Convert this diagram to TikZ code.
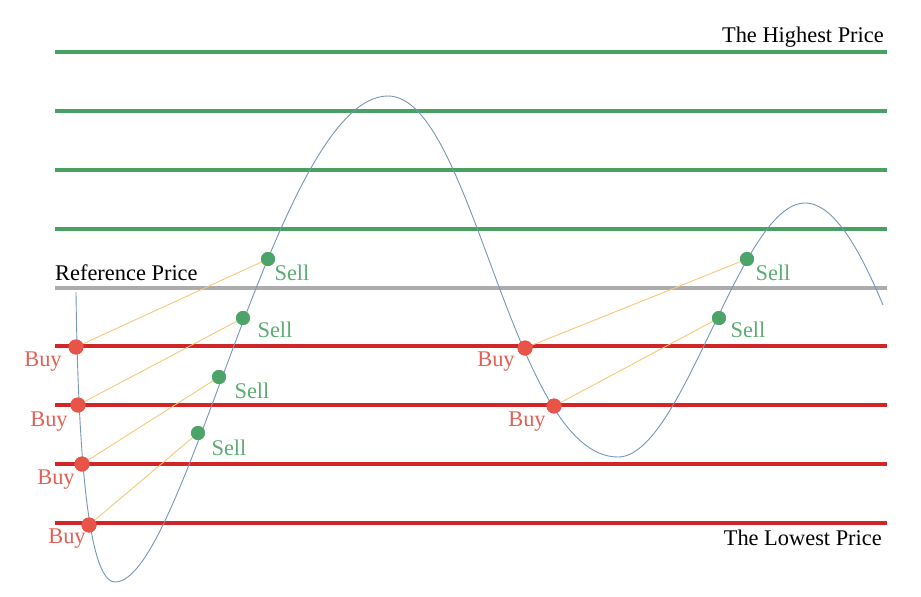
\documentclass[tikz,border=0pt]{standalone}
\usepackage{fontspec}
\setmainfont{Liberation Serif}
\definecolor{lvgreen}{RGB}{72,160,98}
\definecolor{lvred}{RGB}{208,38,40}
\definecolor{lvgray}{RGB}{172,172,172}
\definecolor{curvec}{RGB}{120,150,182}
\definecolor{linkc}{RGB}{248,200,120}
\definecolor{buyc}{RGB}{232,84,72}
\definecolor{sellc}{RGB}{76,164,104}
\definecolor{buytxt}{RGB}{226,96,86}
\definecolor{selltxt}{RGB}{92,172,116}
\begin{document}
\begin{tikzpicture}[x=1pt,y=-1pt,
  level/.style={line width=3.6pt},
  buydot/.style={circle,fill=buyc,inner sep=0pt,minimum size=15pt},
  selldot/.style={circle,fill=sellc,inner sep=0pt,minimum size=14pt},
  lbl/.style={inner sep=0pt,font=\fontsize{22.4}{26}\selectfont},
  buylbl/.style={lbl,text=buytxt},
  selllbl/.style={lbl,text=selltxt},
  link/.style={draw=linkc,line width=0.9pt}]
\useasboundingbox[fill=white] (0,0) rectangle (921,597);
% levels
\foreach \y in {52,111,170,229} \draw[level,lvgreen] (55,\y) -- (887,\y);
\draw[level,lvgray] (55,288) -- (887,288);
\foreach \y in {346,405,464,523} \draw[level,lvred] (55,\y) -- (887,\y);
% curve
\draw[curvec,line width=0.9pt] (76,292) .. controls (78,450) and (88,582) .. (115,582)
  .. controls (185,582) and (278,96) .. (388,96)
  .. controls (473,96) and (512,457) .. (618,457)
  .. controls (683,457) and (740,203) .. (805,203)
  .. controls (838,203) and (866,265) .. (883,305);
% texts
\node[lbl,anchor=east] (high) at (884,37) {The Highest Price};
\node[lbl,anchor=east] (low) at (882,538) {The Lowest Price};
\node[lbl,anchor=west] (ref) at (55,273) {Reference Price};
% dots (placeholders for names)
\node[buydot] (b1) at (76,347) {};
\node[buydot] (b2) at (78,405) {};
\node[buydot] (b3) at (82,464) {};
\node[buydot] (b4) at (89,525) {};
\node[buydot] (b5) at (525,348) {};
\node[buydot] (b6) at (554,406) {};
\node[selldot] (s1) at (268,259) {};
\node[selldot] (s2) at (243,318) {};
\node[selldot] (s3) at (219,377) {};
\node[selldot] (s4) at (198,433) {};
\node[selldot] (s5) at (747,259) {};
\node[selldot] (s6) at (719,318) {};
% links
\draw[link] (b1.center) -- (s1);
\draw[link] (b2.center) -- (s2);
\draw[link] (b3.center) -- (s3);
\draw[link] (b4.center) -- (s4);
\draw[link] (b5.center) -- (s5);
\draw[link] (b6.center) -- (s6);
% dots over links
\foreach \n in {b1,b2,b3,b4,b5,b6} \fill[buyc] (\n.center) circle (7.5pt);
\foreach \n in {s1,s2,s3,s4,s5,s6} \fill[sellc] (\n.center) circle (7pt);
% labels
\node[buylbl] (lb1) at (43,362) {Buy};
\node[buylbl] (lb2) at (49,422) {Buy};
\node[buylbl] (lb3) at (56,480) {Buy};
\node[buylbl] (lb4) at (67,539) {Buy};
\node[buylbl] (lb5) at (496,362) {Buy};
\node[buylbl] (lb6) at (527,422) {Buy};
\node[selllbl] (ls1) at (292,273) {Sell};
\node[selllbl] (ls2) at (275,330) {Sell};
\node[selllbl] (ls3) at (252,391) {Sell};
\node[selllbl] (ls4) at (229,448) {Sell};
\node[selllbl] (ls5) at (773,273) {Sell};
\node[selllbl] (ls6) at (748,330) {Sell};
\end{tikzpicture}
\end{document}
